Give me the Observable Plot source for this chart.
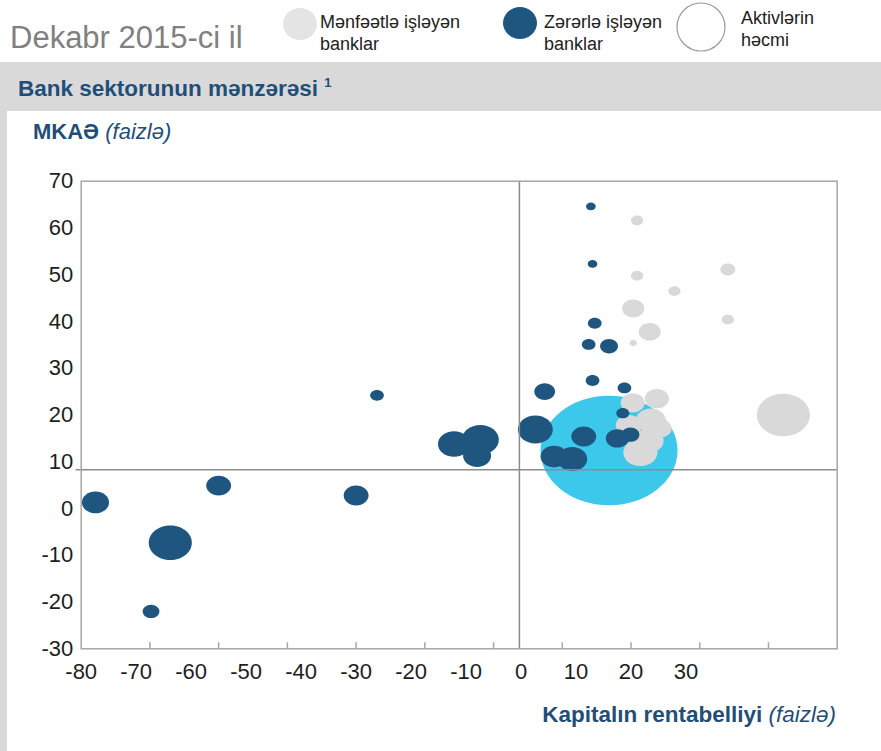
<!DOCTYPE html>
<html><head><meta charset="utf-8">
<script src="https://cdn.jsdelivr.net/npm/d3@7"></script>
<script src="https://cdn.jsdelivr.net/npm/@observablehq/plot@0.6"></script>
<style>
body{margin:0;background:#fff;}
#page{position:relative;width:881px;height:751px;overflow:hidden;font-family:"Liberation Sans",Arial,sans-serif;background:#fff;}
.abs{position:absolute;white-space:nowrap;line-height:1;}
.blue{color:#1f4e79;}
.leg{color:#222;}
</style></head><body>
<div id="page">
  <div class="abs" style="left:10px;top:22px;font-size:31px;color:#808080;">Dekabr 2015-ci il</div>
  <svg class="abs" style="left:0;top:0" width="881" height="60" id="legendsvg"></svg>
  <div class="abs leg" style="left:320px;top:11px;font-size:18px;line-height:22px;">Mənfəətlə işləyən<br>banklar</div>
  <div class="abs leg" style="left:544px;top:11px;font-size:18px;line-height:22px;">Zərərlə işləyən<br>banklar</div>
  <div class="abs leg" style="left:741px;top:7px;font-size:18px;line-height:22px;">Aktivlərin<br>həcmi</div>
  <div class="abs" style="left:0;top:62px;width:881px;height:49px;background:#d9d9d9"></div>
  <div class="abs blue" style="left:18px;top:78px;font-size:22.5px;font-weight:bold;">Bank sektorunun mənzərəsi <span style="font-size:13px;position:relative;top:-9px;">1</span></div>
  <div class="abs" style="left:0;top:111px;width:7px;height:640px;background:#d9d9d9"></div>
  <div id="chart" class="abs" style="left:0;top:110px"></div>
  <div class="abs blue" style="left:33px;top:121px;font-size:22px;"><b>MKAƏ</b> <i>(faizlə)</i></div>
  <div class="abs blue" style="right:45px;top:704px;font-size:22.5px;"><b>Kapitalın rentabelliyi</b> <i>(faizlə)</i></div>
</div>
<script>
// Legend entries
const legendLabels = ["Mənfəətlə işləyən banklar", "Zərərlə işləyən banklar", "Aktivlərin həcmi"];

// Axis tick labels and tick marks
const xLabels = [-80, -70, -60, -50, -40, -30, -20, -10, 0, 10, 20, 30];
const xTickMarks = [-67.5, -55, -42.5, -30, -17.5, -5, 7.5, 20, 32.5, 45];
const yLabels = [-30, -20, -10, 0, 10, 20, 30, 40, 50, 60, 70];
const xCross = -0.3;
const yCross = 8.3;

// Loss-making banks: ROE (x), CAR (y), assets (bubble size)
const lossROE = [-77.4, -63.8, -67.3, -55.0, -30.0, -26.2, -12.2, -7.4, -8.0, 12.7, 13.0, 13.4, 12.3, 16.0, 13.0, 4.3, 18.8, 2.6, 18.5, 11.4, 17.5, 19.9, 6.0, 9.3];
const lossCAR = [1.3, -7.3, -22.0, 4.9, 2.8, 24.2, 13.8, 14.7, 11.3, 64.6, 52.3, 39.6, 35.1, 34.7, 27.4, 25.0, 25.8, 16.9, 20.4, 15.4, 15.0, 15.8, 11.1, 10.6];
const lossAssets = [3.9, 9.9, 1.5, 3.3, 3.3, 1.0, 5.5, 7.3, 4.2, 0.5, 0.5, 1.0, 1.0, 1.7, 1.0, 2.3, 1.0, 6.5, 0.9, 3.3, 2.8, 1.7, 3.9, 4.8];

// Profitable banks
const profitROE = [21.1, 21.1, 37.6, 27.9, 20.4, 37.6, 23.4, 20.4, 47.7, 24.7, 20.3, 23.6, 19.6, 23.2, 21.7, 25.4];
const profitCAR = [61.6, 49.8, 51.1, 46.5, 42.8, 40.4, 37.8, 35.4, 20.0, 23.5, 22.6, 18.8, 17.8, 14.5, 12.0, 17.1];
const profitAssets = [0.8, 0.8, 1.2, 0.8, 2.6, 0.8, 2.6, 0.3, 15.0, 3.1, 3.1, 4.8, 3.6, 4.8, 6.2, 2.6];

// Largest bank (highlighted)
const bigROE = [16.0];
const bigCAR = [12.4];
const bigAssets = [100];

const toRows = (xs, ys, ss) => xs.map((x, i) => ({x, y: ys[i], s: ss[i]}));
const loss = toRows(lossROE, lossCAR, lossAssets);
const profit = toRows(profitROE, profitCAR, profitAssets);
const big = toRows(bigROE, bigCAR, bigAssets);

const ASPECT = 0.8;
const ellipse = {
  draw(ctx, size) {
    const r = Math.sqrt(size / Math.PI), rx = r, ry = r * ASPECT, k = 0.5523;
    ctx.moveTo(rx, 0);
    ctx.bezierCurveTo(rx, k * ry, k * rx, ry, 0, ry);
    ctx.bezierCurveTo(-k * rx, ry, -rx, k * ry, -rx, 0);
    ctx.bezierCurveTo(-rx, -k * ry, -k * rx, -ry, 0, -ry);
    ctx.bezierCurveTo(k * rx, -ry, rx, -k * ry, rx, 0);
    ctx.closePath();
  }
};

const C_LOSS = "#1f5680", C_PROFIT = "#d9d9d9", C_BIG = "#3cc8ea", C_LINE = "#8c8c8c", C_FRAME = "#a6a6a6";
const fmt = d => String(d);

const chart = Plot.plot({
  width: 881, height: 641,
  marginTop: 70.7, marginBottom: 102.7, marginLeft: 80.7, marginRight: 44.3,
  style: {fontFamily: "Liberation Sans, Arial, sans-serif", fontSize: "22px", color: "#1e1e1e", background: "transparent", overflow: "visible"},
  x: {domain: [-80, 57.5]},
  y: {domain: [-30, 70]},
  r: {type: "sqrt", domain: [0, 100], range: [0, 68.5]},
  marks: [
    Plot.dot(big, {x: "x", y: "y", r: "s", fill: C_BIG, symbol: ellipse}),
    Plot.dot(profit, {x: "x", y: "y", r: "s", fill: C_PROFIT, symbol: ellipse}),
    Plot.dot(loss, {x: "x", y: "y", r: "s", fill: C_LOSS, symbol: ellipse}),
    Plot.ruleX([xCross], {stroke: C_LINE, strokeWidth: 1.5}),
    Plot.ruleY([yCross], {stroke: C_LINE, strokeWidth: 1.5, insetLeft: -5}),
    Plot.frame({stroke: C_FRAME, strokeWidth: 1.5}),
    Plot.axisX({ticks: xTickMarks, tickSize: 6, dy: -6, tickFormat: () => "", label: null, stroke: C_FRAME, strokeWidth: 1.5}),
    Plot.axisX({ticks: xLabels, tickSize: 0, tickPadding: 15, tickFormat: fmt, label: null}),
    Plot.axisY({ticks: yLabels, tickSize: 0, tickPadding: 8, tickFormat: fmt, label: null})
  ]
});
document.getElementById("chart").appendChild(chart);

// Legend symbols
const lg = d3.select("#legendsvg");
lg.append("ellipse").attr("cx", 300).attr("cy", 24).attr("rx", 17).attr("ry", 16).attr("fill", "#e4e4e4");
lg.append("ellipse").attr("cx", 520).attr("cy", 23).attr("rx", 17).attr("ry", 16).attr("fill", C_LOSS);
lg.append("ellipse").attr("cx", 701).attr("cy", 27).attr("rx", 24).attr("ry", 24).attr("fill", "#fff").attr("stroke", "#9a9a9a").attr("stroke-width", 1.2);
</script>
</body></html>
